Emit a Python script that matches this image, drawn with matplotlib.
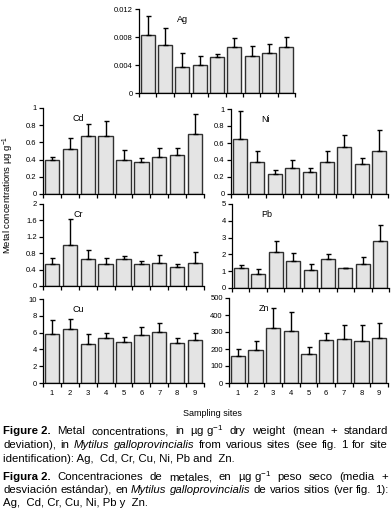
import numpy as np
import matplotlib
matplotlib.use('Agg')
import matplotlib.pyplot as plt

plt.rcParams['font.family'] = ['Liberation Sans', 'DejaVu Sans']
plt.rcParams['mathtext.fontset'] = 'custom'
plt.rcParams['mathtext.rm'] = 'Liberation Sans'
plt.rcParams['mathtext.it'] = 'Liberation Sans:italic'
plt.rcParams['mathtext.bf'] = 'Liberation Sans:bold'

# Sampling sites
sites = [1, 2, 3, 4, 5, 6, 7, 8, 9]

# Mean values and mean + SD (top of error bar)
ag_mean = [0.0083, 0.0068, 0.0037, 0.0040, 0.0051, 0.0066, 0.0053, 0.0057, 0.0066]
ag_top = [0.0110, 0.0093, 0.0057, 0.0053, 0.0056, 0.0079, 0.0067, 0.0070, 0.0080]
cd_mean = [0.40, 0.52, 0.68, 0.67, 0.39, 0.37, 0.43, 0.45, 0.70]
cd_top = [0.43, 0.65, 0.81, 0.85, 0.51, 0.42, 0.54, 0.54, 0.93]
ni_mean = [0.65, 0.38, 0.24, 0.31, 0.26, 0.38, 0.55, 0.35, 0.51]
ni_top = [0.98, 0.50, 0.28, 0.40, 0.31, 0.50, 0.69, 0.42, 0.75]
cr_mean = [0.53, 1.01, 0.66, 0.53, 0.65, 0.53, 0.57, 0.46, 0.56]
cr_top = [0.68, 1.63, 0.87, 0.68, 0.73, 0.60, 0.75, 0.54, 0.82]
pb_mean = [1.22, 0.86, 2.12, 1.62, 1.10, 1.70, 1.18, 1.42, 2.78]
pb_top = [1.34, 1.16, 2.78, 2.06, 1.40, 2.00, 1.22, 1.82, 3.74]
cu_mean = [5.85, 6.40, 4.62, 5.38, 4.94, 5.69, 6.05, 4.78, 5.10]
cu_top = [7.47, 7.63, 5.81, 5.93, 5.45, 6.64, 7.11, 5.34, 5.93]
zn_mean = [161, 196, 325, 304, 173, 253, 257, 249, 267]
zn_top = [200, 247, 441, 418, 212, 294, 341, 341, 353]

W, H = 391, 530
fig = plt.figure(figsize=(W / 100, H / 100), dpi=100)


def px_axes(left, right, top, bottom):
    return fig.add_axes([left / W, 1 - bottom / H, (right - left) / W, (bottom - top) / H])


def panel(ax, name, mean, top, yticks, ylabels, show_x, name_x=0.22):
    mean = np.array(mean)
    err = np.array(top) - mean
    ax.bar(sites, mean, width=0.8, color='#e4e4e4', edgecolor='#303030', linewidth=1.0, zorder=2)
    ax.errorbar(sites, mean, yerr=[np.zeros_like(err), err], fmt='none', ecolor='black',
                elinewidth=1.0, capsize=1.8, capthick=1.0, zorder=3)
    ax.set_xlim(0.5, 9.5)
    ax.set_ylim(0, yticks[-1])
    ax.set_yticks(yticks)
    ax.set_yticklabels(ylabels, fontsize=5.5)
    ax.set_xticks(np.arange(0.5, 10, 1), minor=True)
    ax.set_xticks(sites)
    if show_x:
        ax.set_xticklabels([str(s) for s in sites], fontsize=5.5)
    else:
        ax.set_xticklabels([])
    ax.tick_params(axis='x', which='major', length=0, pad=5)
    ax.tick_params(axis='x', which='minor', length=3, width=0.9, direction='out')
    ax.tick_params(axis='y', length=3, width=0.9, direction='out', pad=1.5)
    for s in ['top', 'right']:
        ax.spines[s].set_visible(False)
    for s in ['left', 'bottom']:
        ax.spines[s].set_linewidth(0.9)
    ax.text(name_x, 0.93, name, transform=ax.transAxes, fontsize=6.5, va='top', ha='center')


ax = px_axes(139, 295, 9, 93)
panel(ax, 'Ag', ag_mean, ag_top, [0, 0.004, 0.008, 0.012], ['0', '0.004', '0.008', '0.012'], False, 0.28)
ax = px_axes(43, 204, 108, 194)
panel(ax, 'Cd', cd_mean, cd_top, [0, 0.2, 0.4, 0.6, 0.8, 1], ['0', '0.2', '0.4', '0.6', '0.8', '1'], False)
ax = px_axes(231, 388, 109, 194)
panel(ax, 'Ni', ni_mean, ni_top, [0, 0.2, 0.4, 0.6, 0.8, 1], ['0', '0.2', '0.4', '0.6', '0.8', '1'], False)
ax = px_axes(43, 204, 204, 286)
panel(ax, 'Cr', cr_mean, cr_top, [0, 0.4, 0.8, 1.2, 1.6, 2], ['0', '0.4', '0.8', '1.2', '1.6', '2'], False)
ax = px_axes(232, 389, 204, 288)
panel(ax, 'Pb', pb_mean, pb_top, [0, 1, 2, 3, 4, 5], ['0', '1', '2', '3', '4', '5'], False)
ax = px_axes(43, 204, 299, 383)
panel(ax, 'Cu', cu_mean, cu_top, [0, 2, 4, 6, 8, 10], ['0', '2', '4', '6', '8', '10'], True)
ax = px_axes(229, 388, 298, 383)
panel(ax, 'Zn', zn_mean, zn_top, [0, 100, 200, 300, 400, 500], ['0', '100', '200', '300', '400', '500'], True)

fig.text(8 / W, 1 - 195 / H, 'Metal concentrations µg g$^{-1}$', rotation=90, fontsize=6.8,
         ha='center', va='center')
fig.text(212 / W, 1 - 413 / H, 'Sampling sites', fontsize=6.5, ha='center', va='center')

# Caption, justified line by line; '|' separates words,
# leading '*' = bold word, leading '_' = italic word
caption = [
    ('*Figure 2.|Metal|concentrations,|in|µg g$^{-1}$|dry|weight|(mean|+|standard', True),
    ('deviation),|in|_Mytilus|_galloprovincialis|from|various|sites|(see|fig.|1|for|site', True),
    ('identification): Ag,  Cd, Cr, Cu, Ni, Pb and  Zn.', False),
    ('*Figura 2.|Concentraciones|de|metales,|en|µg g$^{-1}$|peso|seco|(media|+', True),
    ('desviación|estándar),|en|_Mytilus|_galloprovincialis|de|varios|sitios|(ver|fig.|1):', True),
    ('Ag,  Cd, Cr, Cu, Ni, Pb y  Zn.', False),
]
line_y = [431, 445, 459, 477, 490, 503]
x0, x1 = 3, 388
fig.canvas.draw()
renderer = fig.canvas.get_renderer()
for (line, justify), y in zip(caption, line_y):
    texts = []
    for w in line.split('|'):
        style = dict(fontsize=8.2, ha='left', va='center')
        if w.startswith('*'):
            w, style['fontweight'] = w[1:], 'bold'
        elif w.startswith('_'):
            w, style['fontstyle'] = w[1:], 'italic'
        texts.append(fig.text(0, 1 - y / H, w, **style))
    widths = [t.get_window_extent(renderer).width for t in texts]
    space = 0
    if justify and len(texts) > 1:
        space = (x1 - x0 - sum(widths)) / (len(texts) - 1)
    x = x0
    for t, w in zip(texts, widths):
        t.set_x(x / W)
        x += w + space

fig.savefig('out.png', dpi=100)
